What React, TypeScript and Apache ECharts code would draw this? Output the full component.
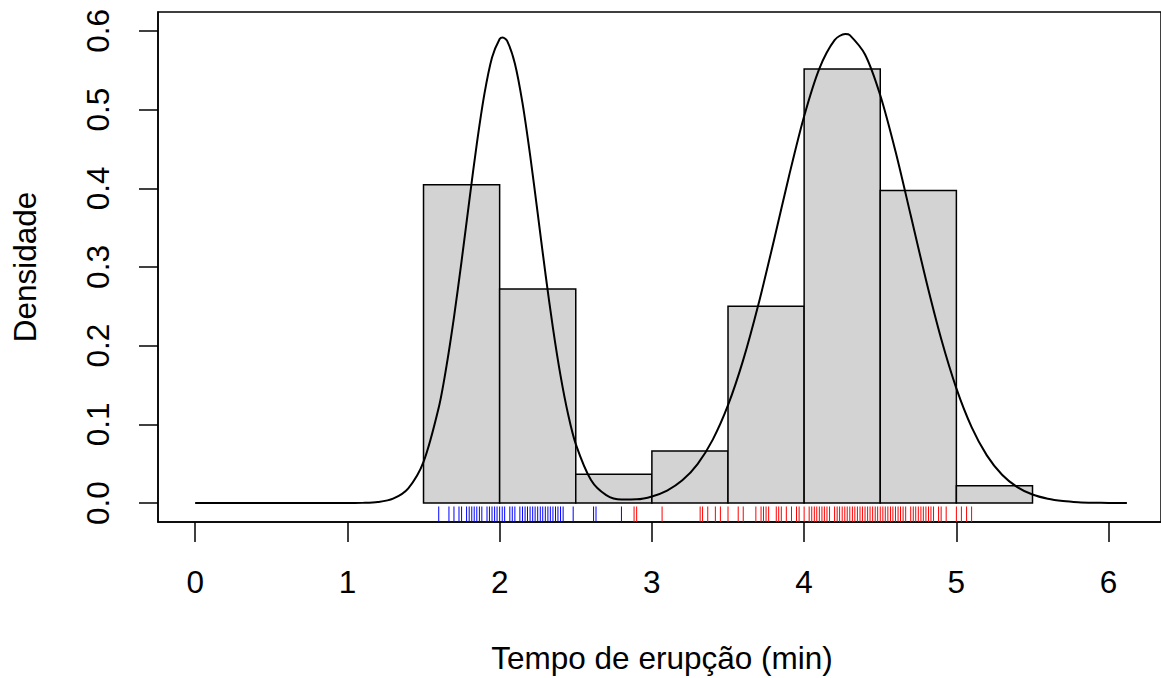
import React, { useEffect, useRef } from "react";
import * as echarts from "echarts";

// Histogram (density scale), breaks every 0.5 min
const binStarts = [1.5, 2.0, 2.5, 3.0, 3.5, 4.0, 4.5, 5.0];
const binEnds = [2.0, 2.5, 3.0, 3.5, 4.0, 4.5, 5.0, 5.5];
const densities = [0.4044, 0.2721, 0.0368, 0.0662, 0.25, 0.5515, 0.3971, 0.0221];

// Fitted mixture density curve
const curveX = [
  0, 0.2, 0.4, 0.6, 0.8, 1.0, 1.1, 1.2, 1.3, 1.4, 1.5, 1.6, 1.65, 1.7, 1.75, 1.8, 1.85, 1.9, 1.95,
  2.0, 2.02, 2.05, 2.1, 2.15, 2.2, 2.25, 2.3, 2.35, 2.4, 2.45, 2.5, 2.6, 2.7, 2.8, 2.9, 3.0, 3.1,
  3.2, 3.3, 3.4, 3.5, 3.6, 3.7, 3.8, 3.9, 4.0, 4.1, 4.2, 4.27, 4.3, 4.4, 4.5, 4.6, 4.7, 4.8, 4.9,
  5.0, 5.1, 5.2, 5.3, 5.4, 5.5, 5.6, 5.7, 5.8, 5.9, 6.0, 6.12,
];
const curveY = [
  0, 0, 0, 0, 0, 0.0001, 0.0003, 0.0014, 0.0056, 0.0188, 0.0523, 0.1214, 0.1731, 0.236, 0.3076,
  0.3832, 0.4565, 0.5199, 0.5662, 0.5896, 0.5917, 0.587, 0.5586, 0.5085, 0.4424, 0.368, 0.2927,
  0.2227, 0.1619, 0.1125, 0.075, 0.0293, 0.0102, 0.0045, 0.0048, 0.0085, 0.016, 0.0289, 0.0496,
  0.0807, 0.1244, 0.182, 0.2527, 0.3325, 0.4151, 0.4916, 0.5522, 0.5883, 0.596, 0.5946, 0.57,
  0.5182, 0.447, 0.3657, 0.2837, 0.2088, 0.1458, 0.0966, 0.0607, 0.0361, 0.0204, 0.0109, 0.0056,
  0.0027, 0.0012, 0.0005, 0.0002, 0.0001,
];

// Rug: eruption times, short group (blue) and long group (red)
const rugShort = [
  1.6, 1.667, 1.7, 1.733, 1.75, 1.783, 1.8, 1.817, 1.833, 1.85, 1.867, 1.883, 1.917, 1.933, 1.95,
  1.967, 1.983, 2.0, 2.017, 2.033, 2.067, 2.083, 2.1, 2.133, 2.15, 2.167, 2.183, 2.2, 2.217, 2.233,
  2.25, 2.267, 2.283, 2.3, 2.317, 2.333, 2.35, 2.367, 2.383, 2.4, 2.417, 2.483, 2.617, 2.633, 2.8,
];
const rugLong = [
  2.883, 2.9, 3.067, 3.317, 3.333, 3.367, 3.417, 3.45, 3.5, 3.567, 3.6, 3.683, 3.717, 3.733, 3.75,
  3.767, 3.817, 3.833, 3.85, 3.883, 3.917, 3.95, 3.967, 4.0, 4.033, 4.05, 4.067, 4.083, 4.1, 4.117,
  4.133, 4.15, 4.167, 4.2, 4.217, 4.233, 4.25, 4.267, 4.283, 4.3, 4.317, 4.333, 4.35, 4.367, 4.383,
  4.4, 4.417, 4.433, 4.45, 4.467, 4.483, 4.5, 4.517, 4.533, 4.55, 4.567, 4.583, 4.6, 4.617, 4.633,
  4.65, 4.667, 4.7, 4.717, 4.733, 4.75, 4.767, 4.783, 4.8, 4.817, 4.833, 4.85, 4.883, 4.9, 4.933,
  5.0, 5.033, 5.067, 5.1,
];

const xTicks = [0, 1, 2, 3, 4, 5, 6];
const yTicks = [0, 0.1, 0.2, 0.3, 0.4, 0.5, 0.6];

const X_MIN = -0.244;
const X_MAX = 6.344;
const Y_MIN = -0.024;
const Y_MAX = 0.624;
const RUG_TOP = -0.0043;

const FONT = "'Liberation Sans', Arial, Helvetica, sans-serif";
const FS = 31.5;

export default function App() {
  const ref = useRef<HTMLDivElement>(null);

  useEffect(() => {
    if (!ref.current) return;
    const chart = echarts.init(ref.current, undefined, { renderer: "svg" });

    const histData = binStarts.map((s, i) => [s, binEnds[i], densities[i]]);
    const curveData = curveX.map((x, i) => [x, curveY[i]]);

    const rugSeries = (vals: number[], color: string) => ({
      type: "custom",
      z: 4,
      silent: true,
      data: vals.map((v) => [v, 0]),
      encode: { x: 0, y: 1 },
      renderItem: (_p: any, api: any) => {
        const x = api.value(0);
        const a = api.coord([x, Y_MIN]);
        const b = api.coord([x, RUG_TOP]);
        return {
          type: "line",
          shape: { x1: a[0], y1: a[1], x2: b[0], y2: b[1] },
          style: { stroke: color, lineWidth: 1 },
        };
      },
    });

    chart.setOption({
      animation: false,
      backgroundColor: "#ffffff",
      grid: {
        left: 158,
        right: -5,
        top: 12,
        bottom: 156,
        show: true,
        borderColor: "#000",
        borderWidth: 1.5,
      },
      xAxis: {
        type: "value",
        min: X_MIN,
        max: X_MAX,
        splitLine: { show: false },
        axisLine: { show: true, onZero: false, lineStyle: { color: "#000", width: 1.5 } },
        axisTick: {
          show: true,
          inside: false,
          customValues: xTicks,
          length: 20,
          lineStyle: { color: "#000", width: 1.5 },
        },
        axisLabel: {
          customValues: xTicks,
          margin: 44,
          fontSize: FS,
          fontFamily: FONT,
          color: "#000",
          formatter: (v: number) => String(v),
        },
      },
      yAxis: {
        type: "value",
        min: Y_MIN,
        max: Y_MAX,
        splitLine: { show: false },
        axisLine: { show: true, onZero: false, lineStyle: { color: "#000", width: 1.5 } },
        axisTick: {
          show: true,
          inside: false,
          customValues: yTicks,
          length: 19,
          lineStyle: { color: "#000", width: 1.5 },
        },
        axisLabel: {
          customValues: yTicks,
          rotate: 90,
          margin: 44,
          fontSize: FS,
          fontFamily: FONT,
          color: "#000",
          formatter: (v: number) => v.toFixed(1),
        },
      },
      graphic: [
        {
          type: "text",
          x: 662,
          y: 658,
          style: {
            text: "Tempo de erupção (min)",
            font: `${FS}px ${FONT}`,
            fill: "#000",
            align: "center",
            verticalAlign: "middle",
          },
        },
        {
          type: "text",
          x: 25,
          y: 267,
          rotation: Math.PI / 2,
          style: {
            text: "Densidade",
            font: `${FS}px ${FONT}`,
            fill: "#000",
            align: "center",
            verticalAlign: "middle",
          },
        },
      ],
      series: [
        {
          type: "custom",
          z: 2,
          silent: true,
          data: histData,
          encode: { x: [0, 1], y: 2 },
          renderItem: (_p: any, api: any) => {
            const tl = api.coord([api.value(0), api.value(2)]);
            const br = api.coord([api.value(1), 0]);
            return {
              type: "rect",
              shape: { x: tl[0], y: tl[1], width: br[0] - tl[0], height: br[1] - tl[1] },
              style: { fill: "#D3D3D3", stroke: "#000", lineWidth: 1.5 },
            };
          },
        },
        {
          type: "line",
          z: 3,
          silent: true,
          data: curveData,
          showSymbol: false,
          symbol: "none",
          smooth: 0.3,
          lineStyle: { color: "#000", width: 2 },
        },
        rugSeries(rugShort, "#0000FF"),
        rugSeries(rugLong, "#FF0000"),
      ],
    });

    return () => chart.dispose();
  }, []);

  return (
    <div
      ref={ref}
      style={{ position: "fixed", left: 0, top: 0, width: 1161, height: 678, background: "#fff" }}
    />
  );
}
